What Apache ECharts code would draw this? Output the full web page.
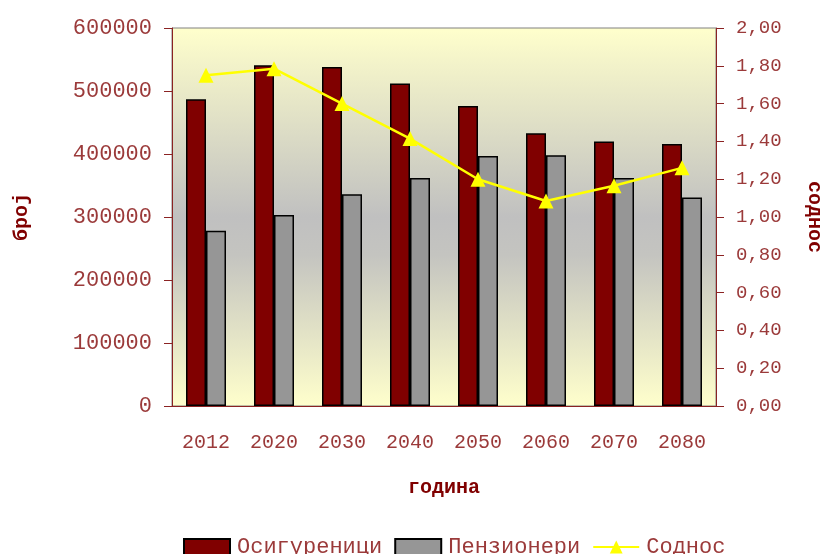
<!DOCTYPE html>
<html>
<head>
<meta charset="utf-8">
<script src="https://cdn.jsdelivr.net/npm/echarts@6/dist/echarts.min.js"></script>
<style>
  html, body { margin: 0; padding: 0; background: #fff; }
  #main { width: 823px; height: 554px; }
</style>
</head>
<body>
<div id="main"></div>
<script>
var years = ['2012', '2020', '2030', '2040', '2050', '2060', '2070', '2080'];
var osigureni = [487000, 541000, 538000, 512000, 476000, 433000, 420000, 416000];
var penzioneri = [278000, 303000, 336000, 362000, 397000, 398000, 362000, 331000];
var soodnos = [1.75, 1.785, 1.60, 1.415, 1.20, 1.085, 1.165, 1.26];

var red = '#8B2323';
var labelColor = '#9B3A3A';
var mono = 'Liberation Mono';

var chart = echarts.init(document.getElementById('main'));

var option = {
    animation: false,
    grid: {
        left: 172,
        right: 107,
        top: 28,
        bottom: 148,
        outerBoundsMode: 'none',
        containLabel: false,
        show: true,
        borderColor: '#808080',
        borderWidth: 1,
        backgroundColor: new echarts.graphic.LinearGradient(0, 0, 0, 1, [
            {offset: 0, color: '#FFFFCC'},
            {offset: 0.5, color: '#C0C0C0'},
            {offset: 0.6, color: '#C4C4C0'},
            {offset: 1, color: '#FFFFCC'}
        ])
    },
    legend: {
        left: 178,
        top: 531,
        itemWidth: 46,
        itemHeight: 16,
        itemGap: 12,
        textStyle: {
            fontFamily: mono,
            fontSize: 22,
            color: labelColor,
            padding: [0, 0, 0, 2]
        },
        data: [
            {name: 'Осигуреници', icon: 'rect'},
            {name: 'Пензионери', icon: 'rect'},
            'Соднос'
        ]
    },
    xAxis: {
        type: 'category',
        data: years,
        name: 'година',
        nameLocation: 'middle',
        nameGap: 72,
        nameTextStyle: {
            fontFamily: mono,
            fontWeight: 'bold',
            fontSize: 20,
            color: '#800000'
        },
        axisLine: {lineStyle: {color: red, width: 1}},
        axisTick: {length: 8, lineStyle: {color: red}},
        axisLabel: {
            margin: 27,
            fontFamily: mono,
            fontSize: 20,
            color: labelColor
        }
    },
    yAxis: [{
        type: 'value',
        min: 0,
        max: 600000,
        interval: 100000,
        name: 'број',
        nameLocation: 'middle',
        nameRotate: 90,
        nameGap: 140,
        nameTextStyle: {
            fontFamily: mono,
            fontWeight: 'bold',
            fontSize: 20,
            color: '#800000'
        },
        splitLine: {show: false},
        axisLine: {show: true, lineStyle: {color: red}},
        axisTick: {show: true, length: 8, lineStyle: {color: red}},
        axisLabel: {
            margin: 20,
            fontFamily: mono,
            fontSize: 22,
            color: labelColor,
            formatter: function (v) {
                return String(v);
            }
        }
    }, {
        type: 'value',
        position: 'right',
        min: 0,
        max: 2,
        interval: 0.2,
        name: 'соднос',
        nameLocation: 'middle',
        nameRotate: -90,
        nameGap: 88,
        nameTextStyle: {
            fontFamily: mono,
            fontWeight: 'bold',
            fontSize: 20,
            color: '#800000'
        },
        splitLine: {show: false},
        axisLine: {show: true, lineStyle: {color: red}},
        axisTick: {show: true, length: 8, lineStyle: {color: red}},
        axisLabel: {
            margin: 20,
            fontFamily: mono,
            fontSize: 19,
            color: labelColor,
            formatter: function (v) {
                return v.toFixed(2).replace('.', ',');
            }
        }
    }],
    series: [{
        name: 'Осигуреници',
        type: 'bar',
        barWidth: 20,
        barGap: '0%',
        itemStyle: {color: '#800000', borderColor: '#000', borderWidth: 1.5},
        data: osigureni
    }, {
        name: 'Пензионери',
        type: 'bar',
        barWidth: 20,
        barGap: '0%',
        itemStyle: {color: '#969696', borderColor: '#000', borderWidth: 1.5},
        data: penzioneri
    }, {
        name: 'Соднос',
        type: 'line',
        yAxisIndex: 1,
        symbol: 'triangle',
        symbolSize: 15,
        lineStyle: {color: '#FFFF00', width: 2.5},
        itemStyle: {color: '#FFFF00'},
        data: soodnos
    }]
};

chart.setOption(option);
</script>
</body>
</html>
